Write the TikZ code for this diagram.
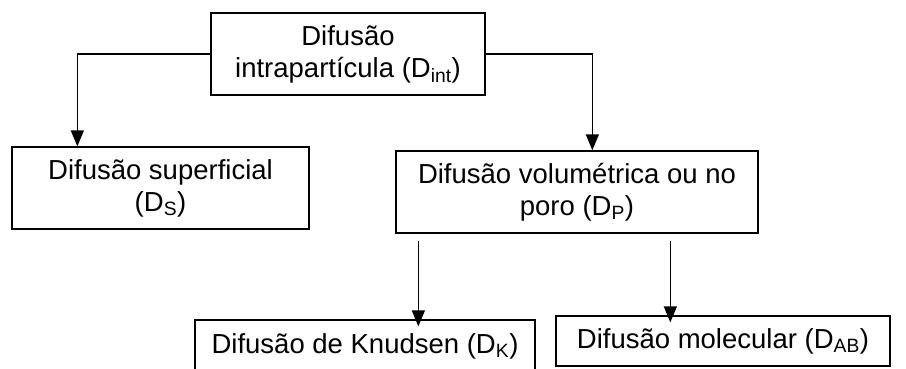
\documentclass[tikz,border=0pt]{standalone}
\usepackage{fontspec}
\setmainfont{Liberation Sans}
\usetikzlibrary{arrows.meta}

\begin{document}
\begin{tikzpicture}
[x=1pt,y=-1pt,blackbox/.style={draw=black,line width=1.3pt,align=center,inner sep=0pt,font=\fontsize{27.5}{32}\selectfont},blackarrow/.style={-{Triangle[length=16pt,width=13pt]},black,line width=1.3pt}]

\useasboundingbox (0,0) rectangle (906,368);

% intraparticle diffusion
\node[blackbox,minimum width=274pt,minimum height=82pt](dint) at (348,54){Difusão\\intrapartícula (D\textsubscript{int})};

% surface
\node[blackbox,minimum width=297pt,minimum height=82pt](ds) at (160.5,188){Difusão superficial\\(D\textsubscript{S})};

% pore
\node[blackbox,minimum width=362pt,minimum height=82pt](dp) at (577,192){Difusão volumétrica ou no\\poro (D\textsubscript{P})};

% knudsen, molecular
\node[blackbox,minimum width=340pt,minimum height=52pt](dk) at (365,346){Difusão de Knudsen (D\textsubscript{K})};
\node[blackbox,minimum width=334pt,minimum height=50pt](dab) at (723,341){Difusão molecular (D\textsubscript{AB})};

\draw[blackarrow] (dint.west) -| ([xshift=66pt]ds.north west);
\draw[blackarrow] (dint.east) -| ([xshift=197pt]dp.north west);

\draw[blackarrow] ([xshift=23pt,yshift=-7pt]dp.south west) -- ([xshift=23pt,yshift=-7pt]dp.south west |- dk.north);
\draw[blackarrow] ([xshift=275pt,yshift=-7pt]dp.south west) -- ([xshift=275pt,yshift=-7pt]dp.south west |- dab.north);

\end{tikzpicture}
\end{document}
